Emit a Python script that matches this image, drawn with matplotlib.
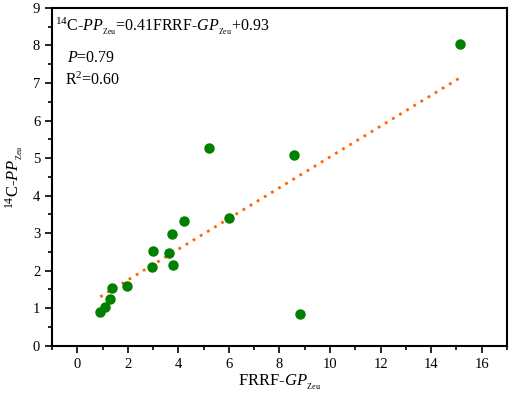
import matplotlib
matplotlib.use("Agg")
import matplotlib.pyplot as plt
from matplotlib.ticker import MultipleLocator
import numpy as np

# data
frrf_gp = [0.91, 1.11, 1.30, 1.37, 1.98, 2.94, 2.99, 3.61, 3.79, 3.74, 4.24, 6.02,
           5.23, 8.59, 8.81, 15.15]
c14_pp = [0.89, 1.03, 1.24, 1.55, 1.58, 2.11, 2.53, 2.48, 2.16, 2.98, 3.33, 3.40,
          5.28, 5.09, 0.84, 8.04]
slope = 0.41
intercept = 0.93

plt.rcParams['font.family'] = ['Liberation Serif', 'DejaVu Serif']
plt.rcParams['mathtext.fontset'] = 'custom'
plt.rcParams['mathtext.rm'] = 'Liberation Serif'
plt.rcParams['mathtext.it'] = 'Liberation Serif:italic'

fig = plt.figure(figsize=(5.1, 3.96), dpi=100)
ax = fig.add_axes([0.102, 0.127, 0.892, 0.853])

fit_x = np.linspace(min(frrf_gp), max(frrf_gp), 50)
ax.plot(fit_x, slope * fit_x + intercept, linestyle=(0, (1, 2)), color='#ff6600', lw=2.0)
ax.plot(frrf_gp, c14_pp, 'o', color='#007f00', ms=6.5, mec='#007f00')

ax.set_xlim(-1, 17)
ax.set_ylim(0, 9)
ax.xaxis.set_major_locator(MultipleLocator(2))
ax.xaxis.set_minor_locator(MultipleLocator(1))
ax.yaxis.set_major_locator(MultipleLocator(1))
ax.yaxis.set_minor_locator(MultipleLocator(0.5))
ax.tick_params(which='both', direction='out', top=False, right=False, labelsize=10.5, width=1.2)
ax.tick_params(which='major', length=5)
ax.tick_params(which='minor', length=3)
for s in ax.spines.values():
    s.set_linewidth(1.5)

sub = r'_{_{\mathrm{Zeu}}}'
ax.set_xlabel(r'FRRF-$\mathit{GP}' + sub + '$', fontsize=12, labelpad=2)
ax.set_ylabel(r'$^{14}$C-$\mathit{PP}' + sub + '$', fontsize=12, labelpad=6)

ax.text(0.007, 0.947, r'$^{14}$C-$\mathit{PP}' + sub + r'$=0.41FRRF-$\mathit{GP}' + sub + '$+0.93',
        transform=ax.transAxes, fontsize=11.5, va='center')
ax.text(0.033, 0.852, r'$\mathit{P}$=0.79', transform=ax.transAxes, fontsize=11.5, va='center')
ax.text(0.029, 0.787, r'R$^{2}$=0.60', transform=ax.transAxes, fontsize=11.5, va='center')

fig.savefig('out.png', dpi=100)
